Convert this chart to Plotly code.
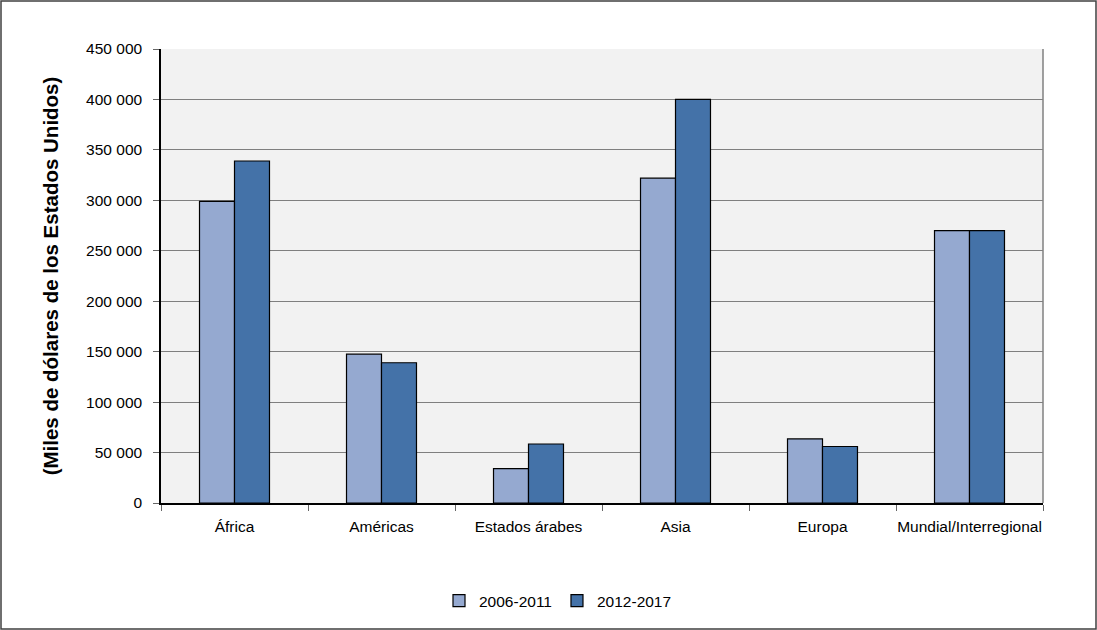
import plotly.graph_objects as go

categories = ["África", "Américas", "Estados árabes", "Asia", "Europa", "Mundial/Interregional"]
series_2006_2011 = [299000, 147500, 34000, 322000, 63500, 270000]
series_2012_2017 = [339000, 139000, 58500, 400000, 56000, 270000]
y_ticks = [0, 50000, 100000, 150000, 200000, 250000, 300000, 350000, 400000, 450000]

W, H = 1097, 630
ml, mr, mt, mb = 161, 54, 49, 127
FONT = "Liberation Sans Narrow, Arial Narrow, Liberation Sans, Arial"
FS = 15.5

fig = go.Figure()
fig.add_bar(x=categories, y=series_2006_2011, name="2006-2011",
            marker=dict(color="#95a9d0", line=dict(color="#000000", width=1.2)))
fig.add_bar(x=categories, y=series_2012_2017, name="2012-2017",
            marker=dict(color="#4472a8", line=dict(color="#000000", width=1.2)))

pw = W - ml - mr
ph = H - mt - mb
def px_x(v):
    return (v - ml) / pw
def px_y(v):
    return 1 - (v - mt) / ph

fig.update_layout(
    width=W, height=H,
    margin=dict(l=ml, r=mr, t=mt, b=mb, autoexpand=False),
    paper_bgcolor="white",
    plot_bgcolor="#f2f2f2",
    separators=", ",
    barmode="group",
    bargap=0.524,
    bargroupgap=0,
    font=dict(family=FONT, size=FS, color="#000000"),
    showlegend=True,
    legend=dict(orientation="h", x=0.5 - 44 / pw, xanchor="center", y=px_y(601), yanchor="middle",
                font=dict(family=FONT, size=FS), itemwidth=30, traceorder="normal"),
    xaxis=dict(
        showgrid=False, showline=True, linecolor="#000000", linewidth=1.5,
        ticks="outside", tickson="boundaries", ticklen=6, tickcolor="#666666",
        tickfont=dict(family=FONT, size=FS), mirror=False, ticklabelstandoff=9,
        tickangle=0, automargin=False,
    ),
    yaxis=dict(
        range=[0, 450000], tickvals=y_ticks, tickformat=",d",
        showgrid=True, gridcolor="#7f7f7f", gridwidth=1.2,
        showline=True, linecolor="#000000", linewidth=1.5,
        ticks="outside", ticklen=6, tickcolor="#666666", ticklabelstandoff=8,
        tickfont=dict(family=FONT, size=FS), zeroline=False, automargin=False,
        title=dict(text="<b>(Miles de dólares de los Estados Unidos)</b>",
                   font=dict(family="Liberation Sans, Arial", size=20.5), standoff=22),
    ),
    shapes=[
        dict(type="rect", xref="paper", yref="paper",
             x0=px_x(1), x1=px_x(1096), y0=px_y(629), y1=px_y(1),
             line=dict(color="#404040", width=1.5), fillcolor="rgba(0,0,0,0)", layer="below"),
        dict(type="line", xref="paper", yref="paper", x0=1, x1=1, y0=0, y1=1,
             line=dict(color="#808080", width=1.5)),
    ],
)

fig.write_html("out.html", config={"displayModeBar": False},
               post_script="document.body.style.margin='0';")
